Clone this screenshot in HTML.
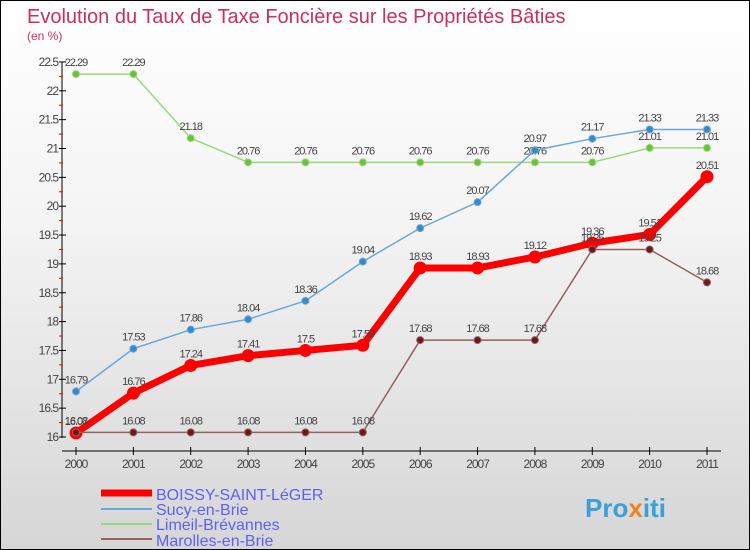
<!DOCTYPE html>
<html><head><meta charset="utf-8"><style>
body{margin:0;}
#c{width:748px;height:548px;border:1px solid #000;background:linear-gradient(#fff 0%,#f4f4f4 40%,#d6d6d6 100%);position:relative;overflow:hidden;font-family:"Liberation Sans",sans-serif;}
</style></head><body>
<div id="c">
<svg id="s" width="748" height="548">
<text x="26" y="22" font-size="20" fill="#c8315e">Evolution du Taux de Taxe Foncière sur les Propriétés Bâties</text>
<text x="26" y="39" font-size="12" fill="#c8315e">(en %)</text>
<g id="axes"></g><g id="series"></g>
<g>
<line x1="100" y1="492" x2="151" y2="492" stroke="#f00" stroke-width="7"/>
<text x="155" y="499" font-size="16" fill="#6060f0">BOISSY-SAINT-LéGER</text>
<line x1="100" y1="508" x2="151" y2="508" stroke="#6aa8d8" stroke-width="2"/>
<text x="155" y="514" font-size="16" fill="#6060f0">Sucy-en-Brie</text>
<line x1="100" y1="523" x2="151" y2="523" stroke="#9ad87a" stroke-width="2"/>
<text x="155" y="529" font-size="16" fill="#6060f0">Limeil-Brévannes</text>
<line x1="100" y1="538" x2="151" y2="538" stroke="#946060" stroke-width="2"/>
<text x="155" y="545" font-size="16" fill="#6060f0">Marolles-en-Brie</text>
</g>
<text x="584" y="516" font-size="26" font-weight="bold" fill="#3aa0d8">Pro<tspan fill="#f08020">x</tspan>iti</text>
</svg>
</div>
<script>
const years=[2000,2001,2002,2003,2004,2005,2006,2007,2008,2009,2010,2011];
const boissy=[16.07,16.76,17.24,17.41,17.5,17.59,18.93,18.93,19.12,19.36,19.51,20.51];
const sucy=[16.79,17.53,17.86,18.04,18.36,19.04,19.62,20.07,20.97,21.17,21.33,21.33];
const limeil=[22.29,22.29,21.18,20.76,20.76,20.76,20.76,20.76,20.76,20.76,21.01,21.01];
const marolles=[16.08,16.08,16.08,16.08,16.08,16.08,17.68,17.68,17.68,19.25,19.25,18.68];
const yTicks=[16,16.5,17,17.5,18,18.5,19,19.5,20,20.5,21,21.5,22,22.5];
const NS="http://www.w3.org/2000/svg";
const X=i=>75+i*(631/11);
const Y=v=>436-(v-16)*57.7;
function mk(t,a,p){const e=document.createElementNS(NS,t);for(const k in a)e.setAttribute(k,a[k]);p.appendChild(e);return e;}
const ax=document.getElementById('axes');
let e=mk('line',{x1:61,y1:Y(22.5),x2:61,y2:Y(16)+1,stroke:'#000'},ax);


e=mk('line',{x1:61,y1:450,x2:720,y2:450,stroke:'#000'},ax);


yTicks.forEach(v=>{
 mk('line',{x1:58,y1:Y(v),x2:65,y2:Y(v),stroke:'#000'},ax);
 if(v<22.5)mk('line',{x1:58,y1:Y(v+0.25),x2:62,y2:Y(v+0.25),stroke:'#e00'},ax);
 const t=mk('text',{x:57,y:Y(v)+4,'font-size':12,'text-anchor':'end',fill:'#444','letter-spacing':'-1'},ax);t.textContent=String(v);
 
 
});
years.forEach((y,i)=>{
 mk('line',{x1:X(i),y1:446,x2:X(i),y2:454,stroke:'#000'},ax);
 const t=mk('text',{x:X(i),y:467,'font-size':12,'text-anchor':'middle',fill:'#444','letter-spacing':'-1'},ax);t.textContent=y;
 
 
});
const sg=document.getElementById('series');
function draw(vals,name,color,w,r,fill){
 const g=mk('g',{},sg);
 
 
 mk('polyline',{points:vals.map((v,i)=>X(i)+','+Y(v)).join(' '),fill:'none',stroke:color,'stroke-width':w,'stroke-linejoin':'round'},g);
 vals.forEach((v,i)=>{
  const c=mk('circle',{cx:X(i),cy:Y(v),r:r,fill:fill,stroke:color,'stroke-width':1},g);
  
  
  const t=mk('text',{x:X(i),y:Y(v)-8,'font-size':11,'text-anchor':'middle',fill:'#444','letter-spacing':'-1'},g);t.textContent=String(v);
  
  
 });
}
draw(limeil,'limeil','#9ad87a',1.5,3.5,'#6cc040');
draw(sucy,'sucy','#6aa8d8',1.5,3.5,'#3a88c8');
draw(boissy,'boissy','#f00',7,6,'#f00');
draw(marolles,'marolles','#946060',1.5,3.5,'#6a1a1a');
</script>
</body></html>
